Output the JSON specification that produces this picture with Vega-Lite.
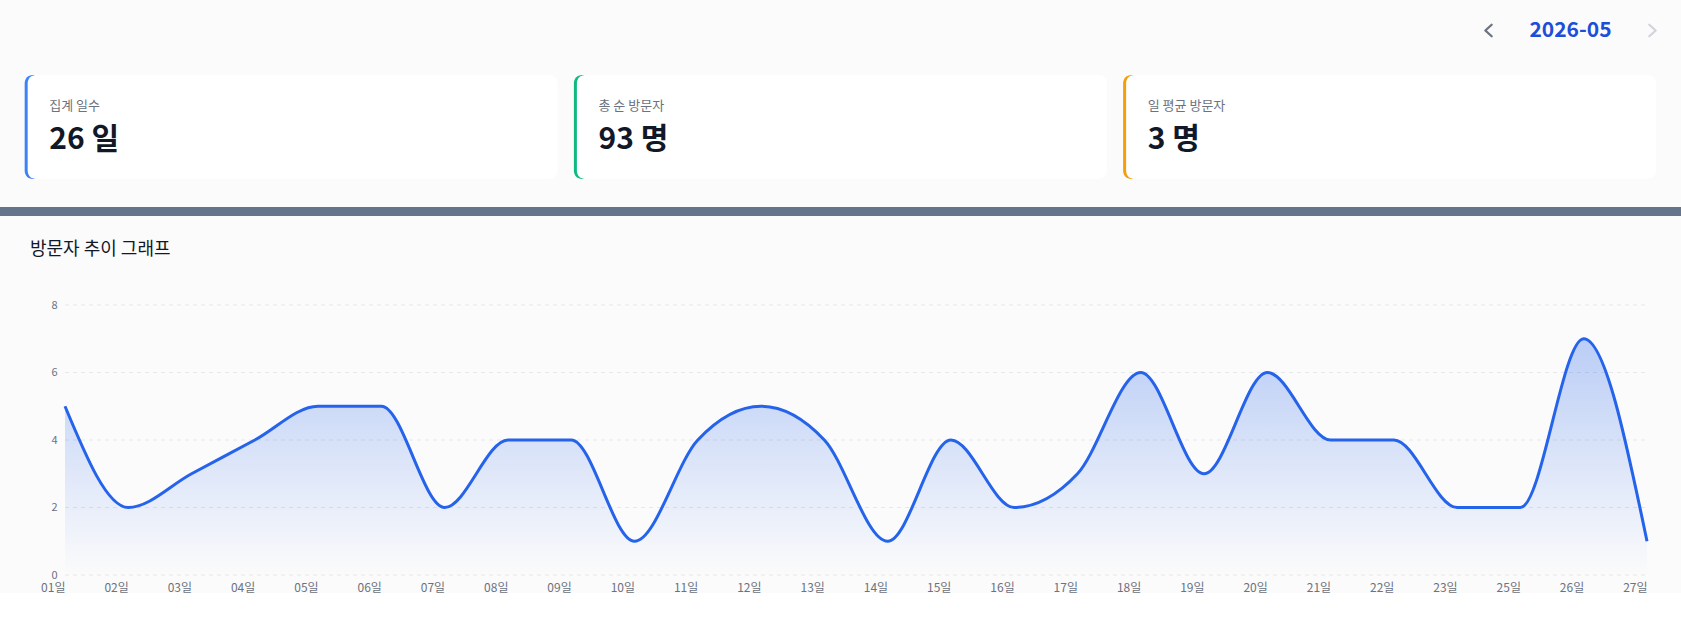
{
  "$schema": "https://vega.github.io/schema/vega-lite/v6.json",
  "background": "#fbfbfb",
  "padding": 0,
  "bounds": "flush",
  "spacing": 28,
  "config": {
    "view": {"stroke": null},
    "font": "Noto Sans CJK KR",
    "axis": {"labelFont": "Noto Sans CJK KR"}
  },
  "vconcat": [
    {
      "width": 1681,
      "height": 47,
      "data": {"values": [
        {"item": "prev", "label": ""},
        {"item": "month", "label": "2026-05"},
        {"item": "next", "label": ""}
      ]},
      "encoding": {
        "x": {"field": "item", "type": "nominal", "axis": null,
              "scale": {"type": "point", "domain": ["prev", "month", "next"], "range": [1488.5, 1652.5], "padding": 0}}
      },
      "layer": [
        {
          "transform": [{"filter": "datum.item === 'month'"}],
          "mark": {"type": "text", "fontSize": 21, "fontWeight": "bold", "color": "#1d4ed8", "baseline": "middle", "dy": 7},
          "encoding": {"text": {"field": "label"}}
        },
        {
          "transform": [{"filter": "datum.item === 'prev'"}],
          "mark": {"type": "point", "shape": "M0.55,-1L-0.55,0L0.55,1", "filled": false, "size": 132, "strokeWidth": 2.3, "color": "#6b7280", "opacity": 1, "strokeCap": "round", "strokeJoin": "round", "yOffset": 7}
        },
        {
          "transform": [{"filter": "datum.item === 'next'"}],
          "mark": {"type": "point", "shape": "M-0.55,-1L0.55,0L-0.55,1", "filled": false, "size": 132, "strokeWidth": 2.3, "color": "#d1d5db", "opacity": 1, "strokeCap": "round", "strokeJoin": "round", "yOffset": 7}
        }
      ]
    },
    {
      "width": 1681,
      "height": 104,
      "data": {"values": [
        {"key": "days", "label": "집계 일수", "value": "26 일"},
        {"key": "total", "label": "총 순 방문자", "value": "93 명"},
        {"key": "avg", "label": "일 평균 방문자", "value": "3 명"}
      ]},
      "encoding": {
        "x": {"field": "key", "type": "nominal", "axis": null,
              "scale": {"type": "band", "domain": ["days", "total", "avg"], "paddingInner": 0.0353, "paddingOuter": 0.048, "align": 0.525}}
      },
      "layer": [
        {
          "mark": {"type": "rect", "cornerRadius": 8, "fill": "#000000", "opacity": 0.05, "yOffset": 3, "xOffset": -2}
        },
        {
          "mark": {"type": "rect", "cornerRadius": 8, "fill": "#000000", "opacity": 0.04, "yOffset": 1.5, "xOffset": -1}
        },
        {
          "mark": {"type": "rect", "cornerRadius": 8, "xOffset": -3, "opacity": 1},
          "encoding": {
            "color": {"field": "key", "type": "nominal", "legend": null,
                      "scale": {"domain": ["days", "total", "avg"], "range": ["#3b82f6", "#10b981", "#f59e0b"]}}
          }
        },
        {
          "mark": {"type": "rect", "cornerRadius": 8, "fill": "#ffffff", "opacity": 1}
        },
        {
          "mark": {"type": "text", "align": "left", "baseline": "middle", "dx": 21.6, "dy": -21, "fontSize": 13, "color": "#6b7280"},
          "encoding": {
            "x": {"field": "key", "type": "nominal", "bandPosition": 0},
            "text": {"field": "label"}
          }
        },
        {
          "mark": {"type": "text", "align": "left", "baseline": "middle", "dx": 21.6, "dy": 13, "fontSize": 30, "fontWeight": "bold", "color": "#111827"},
          "encoding": {
            "x": {"field": "key", "type": "nominal", "bandPosition": 0},
            "text": {"field": "value"}
          }
        }
      ]
    },
    {
      "width": 1681,
      "height": 9,
      "data": {"values": [{}]},
      "mark": {"type": "rect", "color": "#64748b", "opacity": 1},
      "encoding": {}
    },
    {
      "width": 1681,
      "height": 32.7,
      "data": {"values": [{}]},
      "mark": {"type": "rect", "opacity": 0},
      "encoding": {}
    },
    {
      "width": 1681,
      "height": 270,
      "title": {
        "text": "방문자 추이 그래프",
        "anchor": "start",
        "frame": "group",
        "dx": 30,
        "offset": 40,
        "fontSize": 18,
        "fontWeight": "normal",
        "color": "#111827",
        "font": "Noto Sans CJK KR"
      },
      "layer": [
        {
          "data": {"values": [{"t": 0}, {"t": 2}, {"t": 4}, {"t": 6}, {"t": 8}]},
          "mark": {"type": "rule", "color": "#e5e7eb", "strokeWidth": 1, "strokeDash": [4, 4]},
          "encoding": {
            "y": {"field": "t", "type": "quantitative"},
            "x": {"datum": "01일", "type": "ordinal"},
            "x2": {"datum": "27일"}
          }
        },
        {
          "data": {"values": [
            {"day": "01일", "visitors": 5},
            {"day": "02일", "visitors": 2},
            {"day": "03일", "visitors": 3},
            {"day": "04일", "visitors": 4},
            {"day": "05일", "visitors": 5},
            {"day": "06일", "visitors": 5},
            {"day": "07일", "visitors": 2},
            {"day": "08일", "visitors": 4},
            {"day": "09일", "visitors": 4},
            {"day": "10일", "visitors": 1},
            {"day": "11일", "visitors": 4},
            {"day": "12일", "visitors": 5},
            {"day": "13일", "visitors": 4},
            {"day": "14일", "visitors": 1},
            {"day": "15일", "visitors": 4},
            {"day": "16일", "visitors": 2},
            {"day": "17일", "visitors": 3},
            {"day": "18일", "visitors": 6},
            {"day": "19일", "visitors": 3},
            {"day": "20일", "visitors": 6},
            {"day": "21일", "visitors": 4},
            {"day": "22일", "visitors": 4},
            {"day": "23일", "visitors": 2},
            {"day": "25일", "visitors": 2},
            {"day": "26일", "visitors": 7},
            {"day": "27일", "visitors": 1}
          ]},
          "encoding": {
            "x": {"field": "day", "type": "ordinal",
                  "scale": {"type": "point", "domain": ["01일","02일","03일","04일","05일","06일","07일","08일","09일","10일","11일","12일","13일","14일","15일","16일","17일","18일","19일","20일","21일","22일","23일","25일","26일","27일"], "padding": 0.782, "align": 0.6566},
                  "axis": {"title": null, "labelAngle": 0, "domain": false, "ticks": false, "grid": false, "labelPadding": 12, "labelFontSize": 12, "labelColor": "#6b7280", "labelFont": "Noto Sans CJK KR"}},
            "y": {"field": "visitors", "type": "quantitative",
                  "scale": {"domain": [0, 8], "nice": false, "zero": true},
                  "axis": {"title": null, "values": [0, 2, 4, 6, 8], "offset": -65, "domain": false, "ticks": false, "grid": false, "labelPadding": 8, "labelFontSize": 11, "labelColor": "#6b7280", "labelFont": "Noto Sans CJK KR"}}
          },
          "layer": [
            {
              "mark": {
                "type": "area",
                "interpolate": "monotone",
                "color": {
                  "gradient": "linear",
                  "x1": 0, "y1": 0, "x2": 0, "y2": 1,
                  "stops": [
                    {"offset": 0, "color": "rgba(37,99,235,0.30)"},
                    {"offset": 1, "color": "rgba(37,99,235,0.0)"}
                  ]
                },
                "opacity": 1
              }
            },
            {
              "mark": {"type": "line", "interpolate": "monotone", "color": "#2563eb", "strokeWidth": 3}
            }
          ]
        }
      ]
    }
  ]
}
